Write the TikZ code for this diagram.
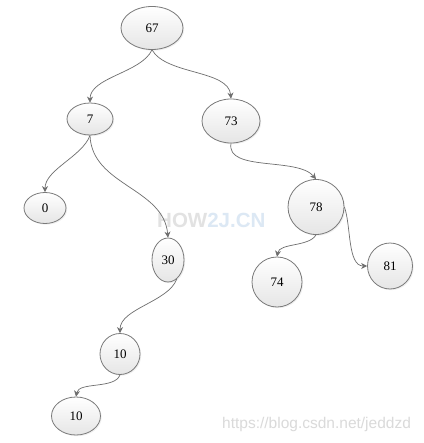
\documentclass[tikz,border=0pt]{standalone}
\usepackage{fontspec}
\setmainfont{Liberation Serif}
\newfontfamily\wmfont{Liberation Sans}
\usetikzlibrary{shapes.geometric,arrows.meta,shadows}
\definecolor{nodeline}{HTML}{7A7A7A}
\definecolor{edgeline}{HTML}{6E6E6E}
\definecolor{wmgray}{HTML}{E2E2E2}
\definecolor{wmblue}{HTML}{DCE8F4}
\definecolor{wmurl}{HTML}{DADADA}
\tikzset{
  tnode/.style={ellipse, draw=nodeline, line width=0.8pt, inner sep=0pt,
    top color=white, bottom color=black!10,
    drop shadow={opacity=0.12, shadow xshift=1.2pt, shadow yshift=-1.2pt},
    font=\fontsize{13}{15}\selectfont},
  tedge/.style={draw=edgeline, line width=0.7pt, looseness=0.8, -{Stealth[length=6pt,width=6pt]}}
}
\begin{document}
\begin{tikzpicture}[x=1pt,y=1pt]
\fill[white] (0,0) rectangle (423,-443);
\useasboundingbox (0,0) rectangle (423,-443);
% watermarks
\node[font=\wmfont\bfseries\fontsize{20.5}{22}\selectfont, inner sep=0pt, anchor=west] (wm1) at (157,-220)
  {\textcolor{wmgray}{HOW}\textcolor{wmblue}{2J.CN}};
\node[font=\wmfont\fontsize{15.5}{17}\selectfont, text=wmurl, inner sep=0pt, anchor=west] (wm2) at (222,-424)
  {https://blog.csdn.net/jeddzd};
% nodes
\node[tnode, minimum width=62pt, minimum height=43pt] (n67) at (152,-28) {67};
\node[tnode, minimum width=46pt, minimum height=32pt] (n7) at (90,-119) {7};
\node[tnode, minimum width=58pt, minimum height=44pt] (n73) at (231,-121) {73};
\node[tnode, minimum width=42pt, minimum height=31pt] (n0) at (45,-208) {0};
\node[tnode, minimum width=32pt, minimum height=44pt] (n30) at (168,-260) {30};
\node[tnode, minimum width=56pt, minimum height=55pt] (n78) at (316,-207) {78};
\node[tnode, minimum width=50pt, minimum height=50pt] (n74) at (277,-282) {74};
\node[tnode, minimum width=45pt, minimum height=46pt] (n81) at (390,-266) {81};
\node[tnode, minimum width=40pt, minimum height=41pt] (n10a) at (120,-354) {10};
\node[tnode, minimum width=49pt, minimum height=38pt] (n10b) at (76,-416) {10};
% edges
\draw[tedge] (n67.south) to[out=-115,in=90] (n7.north);
\draw[tedge] (n67.south) to[out=-60,in=95] (n73.north);
\draw[tedge] (n7.south) to[out=-110,in=90] (n0.north);
\draw[tedge] (n7.south) to[out=-88,in=95,looseness=1] (n30.north);
\draw[tedge] (n73.south) to[out=-100,in=130] (n78.north);
\draw[tedge] (n78.south) to[out=-120,in=80] (n74.north);
\draw[tedge] (n78.east) to[out=-70,in=180] (n81.west);
\draw[tedge] (n30.-65) to[out=-110,in=90] (n10a.north);
\draw[tedge] (n10a.south) to[out=-110,in=80] (n10b.north);
\end{tikzpicture}
\end{document}
